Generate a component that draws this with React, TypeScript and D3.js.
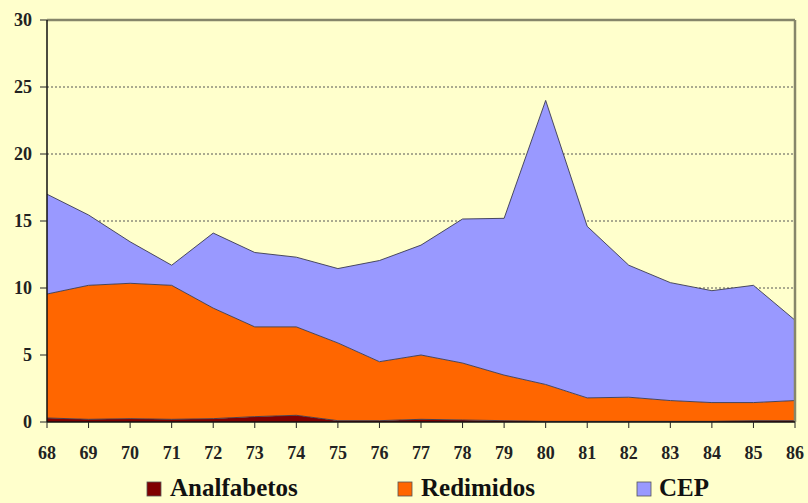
import React from "react";
import * as d3 from "d3";

const years = ["68","69","70","71","72","73","74","75","76","77","78","79","80","81","82","83","84","85","86"];
const analfabetos = [0.3,0.2,0.25,0.2,0.25,0.4,0.5,0.1,0.1,0.2,0.15,0.1,0.05,0.05,0.05,0.05,0.05,0.1,0.1];
const redimidos = [9.25,10.0,10.1,10.0,8.25,6.7,6.6,5.8,4.4,4.8,4.25,3.4,2.75,1.75,1.8,1.55,1.4,1.35,1.5];
const cep = [7.45,5.25,3.1,1.5,5.6,5.55,5.2,5.55,7.55,8.2,10.75,11.7,21.2,12.8,9.85,8.8,8.35,8.75,6.0];
const yTicks = [0,5,10,15,20,25,30];
const seriesKeys = ["Analfabetos","Redimidos","CEP"];
const colors = ["#800000","#FF6600","#9999FF"];

const W = 808, H = 503;
const L = 47, R = 795, T = 20, B = 422;

export default function App() {
  const rows = years.map((y, i) => ({ year: y, Analfabetos: analfabetos[i], Redimidos: redimidos[i], CEP: cep[i] }));
  const stacked = d3.stack<any>().keys(seriesKeys)(rows);
  const x = d3.scalePoint<string>().domain(years).range([L, R]);
  const y = d3.scaleLinear().domain([0, 30]).range([B, T]);
  const area = d3.area<any>()
    .x((d: any) => x(d.data.year) as number)
    .y0((d: any) => y(d[0]))
    .y1((d: any) => y(d[1]));
  const line = d3.line<any>()
    .x((d: any) => x(d.data.year) as number)
    .y((d: any) => y(d[1]));
  const fontStyle = {
    fontFamily: "'Liberation Serif', 'Times New Roman', Times, Tinos, 'Noto Serif', 'DejaVu Serif', FreeSerif, serif",
    fontWeight: 700,
  } as React.CSSProperties;
  const legendItems = [
    { label: "Analfabetos", sx: 147, tx: 170 },
    { label: "Redimidos", sx: 398, tx: 421 },
    { label: "CEP", sx: 637, tx: 659 },
  ];
  return (
    <svg width={W} height={H} style={{ position: "absolute", left: 0, top: 0, background: "#FFFFCC" }}>
      <rect x={0} y={0} width={W} height={H} fill="#FFFFCC" />
      {yTicks.filter(t => t > 0 && t < 30).map(t => (
        <line key={t} x1={L} x2={R} y1={y(t)} y2={y(t)} stroke="#555" strokeWidth={1} strokeDasharray="2,2" />
      ))}
      {stacked.map((s, i) => (
        <path key={s.key} d={area(s as any) || ""} fill={colors[i]} />
      ))}
      {stacked.map((s) => (
        <path key={s.key + "l"} d={line(s as any) || ""} fill="none" stroke="#3a3a50" strokeWidth={0.9} />
      ))}
      <line x1={L} x2={R} y1={T} y2={T} stroke="#86866a" strokeWidth={2.5} />
      <line x1={R} x2={R} y1={T} y2={B} stroke="#86866a" strokeWidth={2.5} />
      <line x1={L} x2={L} y1={T} y2={B} stroke="#111" strokeWidth={1.5} />
      <line x1={L} x2={R} y1={B} y2={B} stroke="#111" strokeWidth={1.5} />
      {yTicks.map(t => (
        <g key={t}>
          <line x1={L - 7} x2={L} y1={y(t)} y2={y(t)} stroke="#222" strokeWidth={1} />
          <text x={32} y={y(t) + 6} textAnchor="end" style={{ ...fontStyle, fontSize: 18 }} fill="#222">{t}</text>
        </g>
      ))}
      {years.map(yr => (
        <g key={yr}>
          <line x1={x(yr)} x2={x(yr)} y1={B} y2={B + 6} stroke="#222" strokeWidth={1} />
          <text x={x(yr)} y={459} textAnchor="middle" style={{ ...fontStyle, fontSize: 18 }} fill="#222">{yr}</text>
        </g>
      ))}
      {legendItems.map((it, i) => (
        <g key={it.label}>
          <rect x={it.sx} y={482} width={14} height={14} fill={colors[i]} stroke="#555" strokeWidth={0.8} />
          <text x={it.tx} y={496} style={{ ...fontStyle, fontSize: 25 }} fill="#111">{it.label}</text>
        </g>
      ))}
    </svg>
  );
}
